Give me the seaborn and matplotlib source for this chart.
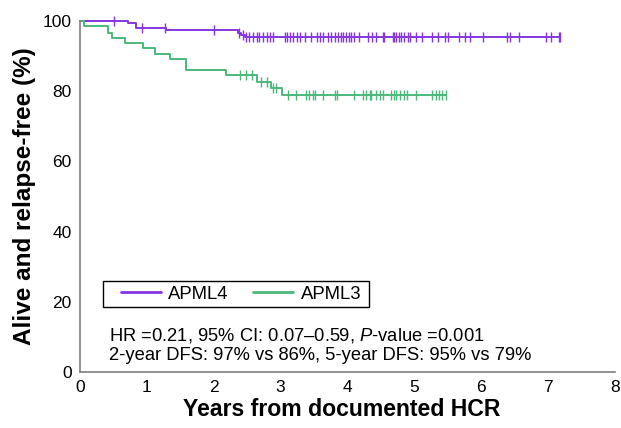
import numpy as np
import pandas as pd
import seaborn as sns
import matplotlib.pyplot as plt
from matplotlib.lines import Line2D
from matplotlib.patches import Rectangle

# APML4 arm
apml4_event_times = [0.72, 0.83, 1.29, 2.36, 2.41, 2.46]
apml4_levels = [99.3, 98.1, 97.4, 96.7, 96.0, 95.3]
apml4_end = 7.18
apml4_censor = [0.50, 0.92, 1.27, 2.00, 2.38, 2.43, 2.48, 2.53, 2.59, 2.64, 2.68,
                2.74, 2.79, 2.84, 2.89, 3.06, 3.09, 3.14, 3.19, 3.24, 3.29, 3.36,
                3.46, 3.54, 3.59, 3.64, 3.71, 3.76, 3.81, 3.86, 3.91, 3.94, 3.98,
                4.02, 4.05, 4.10, 4.18, 4.30, 4.36, 4.43, 4.53, 4.55, 4.68, 4.70,
                4.73, 4.77, 4.80, 4.85, 4.90, 4.94, 5.03, 5.12, 5.26, 5.35, 5.46,
                5.50, 5.67, 5.76, 5.84, 6.03, 6.39, 6.43, 6.57, 6.97, 7.04, 7.16, 7.18]

# APML3 arm
apml3_event_times = [0.06, 0.41, 0.47, 0.67, 0.94, 1.12, 1.34, 1.58, 2.19, 2.64, 2.85, 3.02]
apml3_levels = [98.6, 96.7, 95.2, 93.8, 92.2, 90.5, 89.1, 86.0, 84.5, 82.6, 81.0, 78.9]
apml3_end = 5.47
apml3_censor = [2.39, 2.48, 2.57, 2.71, 2.79, 2.89, 2.93, 3.11, 3.23, 3.38, 3.43,
                3.48, 3.51, 3.64, 3.81, 3.84, 4.10, 4.23, 4.28, 4.33, 4.35, 4.43,
                4.48, 4.53, 4.65, 4.70, 4.73, 4.78, 4.85, 4.89, 5.03, 5.27, 5.32,
                5.37, 5.42, 5.47]

labels = ["APML4", "APML3"]
colors = ["#8436e0", "#4cb87a"]

sns.set_style("white")
plt.rcParams["font.family"] = ["Liberation Sans", "DejaVu Sans"]
plt.rcParams["mathtext.fontset"] = "custom"
plt.rcParams["mathtext.it"] = "Liberation Sans:italic"
plt.rcParams["mathtext.rm"] = "Liberation Sans"
plt.rcParams["text.color"] = "black"
plt.rcParams["axes.labelcolor"] = "black"


def km_frames(events, levels, end, censor):
    t = [0] + list(events) + [end]
    s = [100] + list(levels) + [levels[-1]]
    curve = pd.DataFrame({"time": t, "surv": s})
    idx = np.searchsorted(events, censor, side="right")
    lv = np.array([100] + list(levels))
    marks = pd.DataFrame({"time": censor, "surv": lv[idx]})
    return curve, marks


fig, ax = plt.subplots(figsize=(6.21, 4.28), dpi=100)
fig.subplots_adjust(left=0.129, right=0.99, bottom=0.131, top=0.951)

arms = [(apml4_event_times, apml4_levels, apml4_end, apml4_censor),
        (apml3_event_times, apml3_levels, apml3_end, apml3_censor)]
for (ev, lv, end, cen), col in zip(arms, colors):
    curve, marks = km_frames(ev, lv, end, cen)
    sns.lineplot(data=curve, x="time", y="surv", drawstyle="steps-post",
                 estimator=None, sort=False, color=col, linewidth=1.4, ax=ax,
                 clip_on=False)
    sns.scatterplot(data=marks, x="time", y="surv", marker="|", s=60,
                    linewidth=1.0, color=col, ax=ax, clip_on=False, zorder=3)

ax.set_xlim(0, 8)
ax.set_ylim(0, 100)
ax.set_xticks(range(0, 9))
ax.set_yticks(range(0, 101, 20))
for side in ["top", "right"]:
    ax.spines[side].set_visible(False)
for side in ["left", "bottom"]:
    ax.spines[side].set_color("#808080")
    ax.spines[side].set_linewidth(1.2)
ax.tick_params(axis="both", direction="out", length=4, width=1, color="#808080",
               labelsize=12.5, labelcolor="black", pad=2)
ax.set_xlabel("Years from documented HCR", fontsize=16.6, fontweight="bold")
ax.xaxis.set_label_coords(0.49, -0.075)
ax.set_ylabel("Alive and relapse-free (%)", fontsize=17.5, fontweight="bold", labelpad=5)

# legend: frameless entries inside a plain black box
handles = [Line2D([0], [0], color=c, linewidth=2) for c in colors]
ax.legend(handles, labels, ncol=2, loc="center left", bbox_to_anchor=(0.067, 0.222),
          borderaxespad=0, fontsize=13.3, frameon=False,
          handlelength=2.17, handletextpad=0.4, columnspacing=1.34, borderpad=0.25)
ax.add_patch(Rectangle((0.043, 0.185), 0.497, 0.075, transform=ax.transAxes,
                       fill=False, edgecolor="black", linewidth=1.0, zorder=4))

ax.text(0.054, 0.105, "HR =0.21, 95% CI: 0.07\u20130.59, $P$-value =0.001",
        transform=ax.transAxes, fontsize=13.2, va="center", ha="left")
ax.text(0.054, 0.046, "2-year DFS: 97% vs 86%, 5-year DFS: 95% vs 79%",
        transform=ax.transAxes, fontsize=13.2, va="center", ha="left")

fig.savefig("out.png", dpi=100)
